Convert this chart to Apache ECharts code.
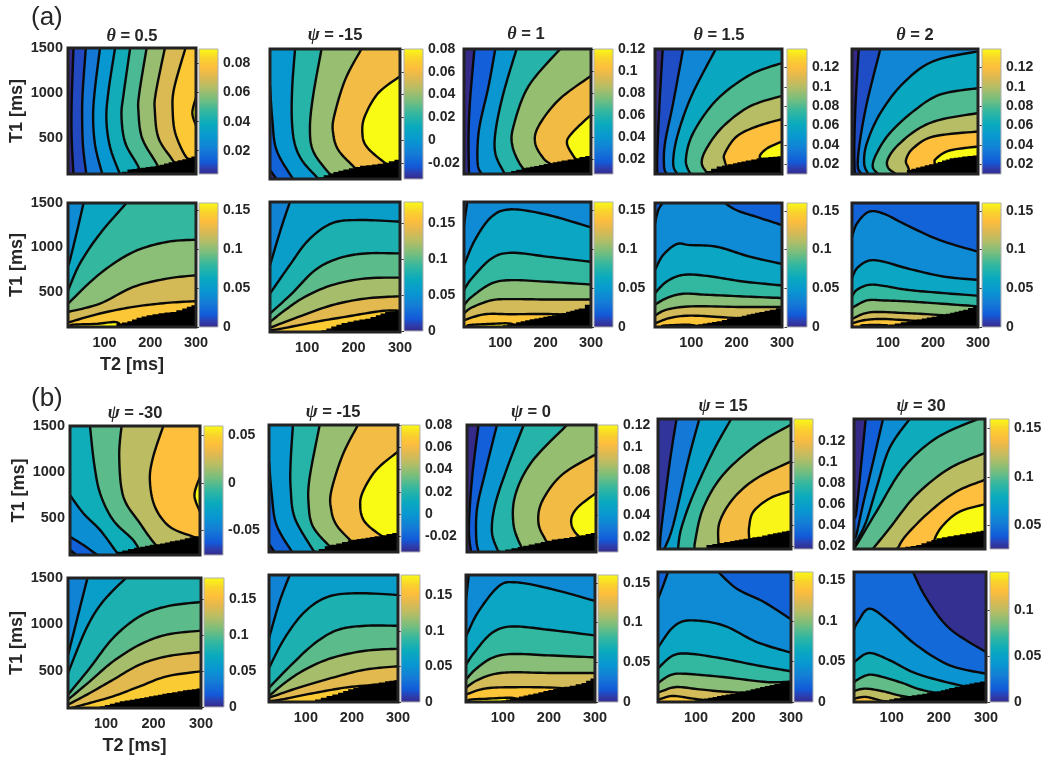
<!DOCTYPE html>
<html><head><meta charset="utf-8">
<style>html,body{margin:0;padding:0;background:#fff}#c{width:1050px;height:758px}</style>
<script src="https://cdn.jsdelivr.net/npm/echarts@6/dist/echarts.min.js"></script>
</head><body><div id="c"></div>
<script>
// ---- values: contours are [T2, T1] in ms, levels are colour-bar values
const barA1=[.004,.09], ticksA1=[.02,.04,.06,.08], levelsA1=[.004,.01,.02,.03,.04,.05,.06,.07,.08,.09];
const contoursA1=[
[[32,1500],[28,900],[28,500],[32,100]],
[[59,1500],[52,1000],[51,700],[53,400],[60,100]],
[[90,1500],[78,1000],[75,700],[80,400],[95,100]],
[[123,1500],[108,1000],[104,700],[112,400],[132,120],[136,100]],
[[156,1500],[142,1000],[137,750],[145,450],[172,200],[180,100]],
[[192,1500],[176,1000],[174,800],[182,500],[212,230],[225,100]],
[[232,1500],[212,1000],[210,800],[218,500],[248,260],[270,100]],
[[277,1500],[252,1050],[249,800],[255,550],[277,300],[300,200]],
[[300,950],[292,780],[300,640]]];
const maskA1=[[125,100],[150,150],[180,170],[210,190],[240,230],[270,265],[300,310]];

const barA2=[-.034,.08], ticksA2=[-.02,0,.02,.04,.06,.08], levelsA2=[-.034,-.02,0,.02,.04,.06,.08];
const contoursA2=[
[[20,197],[34,100]],
[[20,1100],[25,737],[34,413],[67,120],[72,100]],
[[74,1500],[68,1100],[67,750],[73,485],[89,300],[117,140],[125,100]],
[[131,1500],[113,1000],[106,650],[113,400],[146,170],[165,100]],
[[217,1500],[182,1170],[158,773],[156,593],[167,413],[200,233],[225,100]],
[[300,1205],[253,1025],[224,773],[219,593],[228,449],[264,287],[300,170]]];
const maskA2=[[115,100],[146,160],[178,203],[214,243],[240,255],[264,275],[300,323]];

const barA3=[.007,.12], ticksA3=[.02,.04,.06,.08,.1,.12], levelsA3=[.007,.02,.04,.06,.08,.1,.12];
const contoursA3=[
[[43,1500],[33,900],[30,500],[31,100]],
[[89,1500],[74,1081],[53,595],[50,221],[59,100]],
[[136,1500],[107,1006],[90,595],[89,333],[107,127],[112,100]],
[[232,1500],[162,1081],[129,632],[127,408],[147,184],[170,100]],
[[300,1200],[229,931],[184,632],[177,445],[195,277],[214,200],[240,100]],
[[300,763],[258,558],[247,445],[262,296],[280,184],[300,120]]];
const maskA3=[[100,100],[147,165],[175,190],[206,221],[235,250],[262,277],[300,315]];

const barA4=[.01,.139], ticksA4=[.02,.04,.06,.08,.1,.12], levelsA4=[.01,.02,.04,.06,.08,.1,.12,.14];
const contoursA4=[
[[37,1500],[30,894],[25,333],[25,100]],
[[82,1500],[60,894],[42,445],[40,184],[46,100]],
[[154,1500],[100,969],[69,520],[60,221],[69,100]],
[[300,1343],[230,1212],[156,931],[104,558],[88,258],[98,100]],
[[300,976],[229,857],[170,632],[134,389],[123,221],[137,100]],
[[300,715],[244,632],[200,520],[174,333],[174,240],[185,100]],
[[300,464],[268,390],[251,300],[262,250],[300,150]]];
const maskA4=[[112,100],[119,110],[156,184],[192,221],[220,250],[244,277],[270,290],[300,303]];

const barA5=[.01,.139], ticksA5=[.02,.04,.06,.08,.1,.12], levelsA5=[.01,.02,.04,.06,.08,.1,.12,.14];
const contoursA5=[
[[35,1500],[28,900],[25,400],[26,100]],
[[83,1500],[53,894],[37,445],[33,184],[42,100]],
[[300,1474],[200,1362],[134,1118],[83,782],[53,445],[47,221],[56,100]],
[[300,1062],[215,988],[156,801],[104,558],[75,333],[66,184],[78,100]],
[[300,782],[215,707],[164,595],[119,408],[99,258],[101,165],[118,100]],
[[300,576],[201,520],[156,389],[140,258],[145,172],[150,100]],
[[300,408],[237,363],[208,277],[204,221],[215,100]]];
const maskA5=[[130,100],[142,146],[172,185],[201,221],[220,250],[237,277],[265,295],[300,315]];

const barA6=[0,.159], ticksA6=[0,.05,.1,.15], levelsA6=[.04,.06,.08,.1,.12,.14,.16];
const contoursA6=[
[[54,1500],[42,1230],[24,850],[20,800]],
[[148,1500],[90,1154],[46,816],[20,510]],
[[300,1086],[236,1060],[163,947],[90,703],[20,364]],
[[300,684],[236,646],[163,552],[90,364],[20,270]],
[[300,391],[236,372],[163,327],[90,252],[20,150]],
[[135,100],[125,155],[80,135],[30,125],[25,100]]];
const maskA6=[[115,100],[126,139],[150,165],[170,205],[192,233],[218,255],[244,270],[270,310],[300,364]];

const barA7=[0,.179], ticksA7=[0,.05,.1,.15], levelsA7=[.04,.06,.08,.1,.12,.14,.16];
const contoursA7=[
[[63,1500],[45,1234],[20,820]],
[[300,1288],[210,1306],[153,1270],[103,1090],[60,802],[20,514]],
[[300,946],[225,946],[167,892],[117,766],[67,514],[20,298]],
[[300,686],[225,676],[153,604],[95,478],[52,334],[20,208]],
[[300,485],[225,460],[153,388],[81,262],[20,146]],
[[300,330],[260,326],[189,269],[117,208],[45,136],[20,118]]];
const maskA7=[[120,100],[131,118],[152,160],[174,197],[200,225],[225,244],[248,280],[268,316],[300,334]];

const barA8=[0,.16], ticksA8=[0,.05,.1,.15], levelsA8=[.04,.02,.06,.08,.1,.12,.14,.16];
const contoursA8=[
[[20,1240],[27,1500]],
[[300,1216],[206,1354],[125,1418],[81,1336],[44,1074],[20,790]],
[[300,830],[206,886],[125,931],[81,868],[37,644],[20,513]],
[[300,576],[206,606],[125,625],[81,588],[37,438],[20,344]],
[[300,408],[206,408],[125,412],[81,400],[37,318],[20,251]],
[[300,200],[225,243],[125,243],[66,243],[20,176]],
[[130,100],[120,140],[60,130],[30,120],[28,100]]];
const maskA8=[[90,100],[96,109],[125,140],[155,176],[185,205],[214,232],[245,270],[273,307],[300,390]];

const barA9=[0,.16], ticksA9=[0,.05,.1,.15], levelsA9=[.02,.04,.02,.06,.08,.1,.12,.14,.16];
const contoursA9=[
[[300,1250],[244,1343],[200,1418],[174,1500]],
[[20,1268],[27,1418],[37,1500]],
[[300,812],[229,894],[156,1006],[97,1025],[68,1036],[38,913],[20,744]],
[[300,569],[214,614],[134,677],[82,688],[46,614],[20,483]],
[[300,427],[214,445],[134,464],[82,475],[46,427],[20,352]],
[[300,326],[214,326],[101,333],[46,296],[20,228]],
[[300,160],[170,210],[97,228],[53,202],[20,140]],
[[115,100],[95,125],[40,115],[38,100]]];
const maskA9=[[88,100],[93,116],[125,140],[156,165],[190,205],[222,240],[250,270],[273,296],[300,330]];

const barA10=[0,.16], ticksA10=[0,.05,.1,.15], levelsA10=[.02,.04,.06,.08,.1,.12,.14,.16];
const contoursA10=[
[[300,950],[215,1081],[142,1249],[90,1380],[57,1400],[31,1268],[20,1118]],
[[300,632],[223,670],[142,763],[90,838],[57,849],[31,763],[20,651]],
[[300,453],[223,483],[142,520],[90,565],[57,576],[31,520],[20,445]],
[[300,333],[201,370],[142,389],[90,400],[53,400],[20,315]],
[[300,200],[201,240],[134,258],[75,270],[46,250],[20,190]],
[[300,130],[142,176],[83,191],[46,176],[20,140]],
[[100,100],[95,120],[45,120],[40,100]]];
const maskA10=[[85,100],[90,115],[115,140],[142,165],[175,195],[208,228],[238,262],[267,296],[300,352]];

const barB1=[-.076,.06], ticksB1=[-.05,0,.05], levelsB1=[-.076,-.06,-.04,-.02,0,.02,.04,.06];
const contoursB1=[
[[20,155],[34,100]],
[[20,298],[49,208],[77,107],[80,100]],
[[20,749],[49,551],[85,370],[117,153],[125,100]],
[[63,1500],[72,1092],[85,767],[113,478],[156,262],[175,100]],
[[131,1500],[126,1164],[135,731],[171,442],[199,244],[225,100]],
[[221,1500],[199,1164],[192,912],[203,623],[235,406],[286,298],[300,270]],
[[300,948],[288,750],[300,569]]];
const maskB1=[[110,100],[120,135],[145,165],[171,190],[192,210],[214,226],[235,248],[257,269],[298,316]];

const barB2=[-.034,.08], ticksB2=[-.02,0,.02,.04,.06,.08], levelsB2=[-.034,-.02,0,.02,.04,.06,.08];
const contoursB2=[
[[20,190],[32,100]],
[[20,1100],[26,731],[36,402],[68,117],[72,100]],
[[72,1500],[67,1097],[67,805],[76,475],[115,127],[122,100]],
[[130,1500],[108,914],[106,622],[115,384],[148,182],[170,100]],
[[213,1500],[180,1171],[155,768],[155,567],[166,402],[195,237],[225,100]],
[[300,1207],[253,1006],[224,768],[218,603],[227,439],[260,292],[300,170]]];
const maskB2=[[115,100],[141,164],[166,195],[191,226],[220,250],[249,274],[275,298],[300,322]];

const barB3=[.007,.12], ticksB3=[.02,.04,.06,.08,.1,.12], levelsB3=[.007,.02,.04,.06,.08,.1,.12];
const contoursB3=[
[[45,1500],[31,914],[24,365],[29,100]],
[[85,1500],[60,988],[42,585],[40,255],[45,100]],
[[143,1500],[107,1024],[81,622],[74,329],[85,138],[92,100]],
[[237,1500],[161,1097],[125,731],[121,402],[139,146],[150,100]],
[[300,1178],[226,951],[183,658],[175,420],[190,237],[205,100]],
[[300,750],[259,585],[246,439],[259,292],[300,150]]];
const maskB3=[[95,100],[103,127],[130,155],[154,182],[180,210],[204,237],[230,255],[255,274],[300,322]];

const barB4=[.017,.1415], ticksB4=[.02,.04,.06,.08,.1,.12], levelsB4=[.02,.04,.06,.08,.1,.12,.14];
const contoursB4=[
[[59,1500],[45,1043],[27,323],[24,125],[22,100]],
[[107,1500],[83,1043],[52,359],[34,107],[33,100]],
[[174,1500],[136,1151],[94,683],[69,323],[62,100]],
[[300,1439],[228,1223],[157,899],[115,539],[98,179],[98,100]],
[[300,1043],[228,863],[179,647],[150,395],[147,179],[150,100]],
[[300,726],[256,647],[221,503],[212,341],[212,215],[215,100]]];
const maskB4=[[110,100],[122,143],[147,165],[172,186],[200,210],[228,233],[262,270],[300,305]];

const barB5=[.025,.16], ticksB5=[.05,.1,.15], levelsB5=[.025,.04,.06,.08,.1,.12,.14,.16];
const contoursB5=[
[[45,1500],[36,1043],[25,503],[20,431]],
[[82,1500],[61,1043],[39,575],[25,251],[20,220]],
[[139,1500],[96,1187],[68,755],[46,395],[25,179],[20,150]],
[[285,1500],[196,1295],[125,971],[68,503],[25,143],[20,130]],
[[300,1133],[225,971],[153,683],[96,323],[61,107],[58,100]],
[[300,845],[239,719],[182,503],[132,251],[114,114],[110,100]],
[[300,582],[246,503],[211,359],[193,215],[190,100]]];
const maskB5=[[110,100],[118,114],[153,143],[175,180],[196,215],[220,236],[246,258],[272,280],[300,305]];

const barB6=[0,.179], ticksB6=[0,.05,.1,.15], levelsB6=[.04,.06,.08,.1,.12,.14,.16];
const contoursB6=[
[[61,1500],[45,1177],[22,710],[20,680]],
[[142,1500],[94,1249],[59,961],[20,477]],
[[300,1242],[228,1195],[171,1087],[115,854],[66,531],[20,243]],
[[300,933],[228,890],[171,782],[115,602],[66,387],[20,190]],
[[300,703],[228,656],[171,567],[115,405],[66,261],[20,136]],
[[300,495],[228,441],[171,333],[115,226],[66,154],[27,100]]];
const maskB6=[[75,100],[87,118],[108,145],[129,172],[150,190],[171,208],[200,235],[228,261],[262,290],[300,315]];

const barB7=[0,.179], ticksB7=[0,.05,.1,.15], levelsB7=[.04,.06,.08,.1,.12,.14,.16];
const contoursB7=[
[[65,1500],[43,1207],[21,823],[20,815]],
[[300,1280],[214,1299],[149,1262],[98,1097],[54,805],[20,475]],
[[300,940],[229,940],[170,896],[120,750],[69,512],[20,256]],
[[300,687],[229,665],[156,585],[98,457],[54,310],[20,164]],
[[300,494],[229,457],[156,365],[83,256],[20,146]],
[[300,330],[272,300],[192,263],[120,201],[47,127],[20,110]]];
const maskB7=[[105,100],[120,127],[145,165],[170,201],[192,240],[214,274],[245,300],[272,329],[300,347]];

const barB8=[0,.16], ticksB8=[0,.05,.1,.15], levelsB8=[.04,.02,.06,.08,.1,.12,.14,.16];
const contoursB8=[
[[20,1230],[26,1500]],
[[300,1215],[199,1354],[126,1420],[90,1372],[47,1097],[25,878],[20,820]],
[[300,834],[199,896],[119,933],[76,860],[40,658],[20,512]],
[[300,592],[199,614],[119,629],[76,585],[40,457],[20,347]],
[[300,420],[199,420],[119,428],[76,402],[40,329],[20,256]],
[[300,210],[220,256],[119,263],[61,248],[20,182]],
[[125,100],[122,145],[60,135],[28,125],[25,100]]];
const maskB8=[[90,100],[97,117],[125,150],[155,182],[188,220],[220,255],[245,280],[271,310],[300,384]];

const barB9=[0,.16], ticksB9=[0,.05,.1,.15], levelsB9=[.02,.04,.02,.06,.08,.1,.12,.14];
const contoursB9=[
[[300,990],[243,1177],[186,1320],[147,1500]],
[[20,1210],[31,1356],[41,1500]],
[[300,631],[228,746],[157,926],[87,979],[52,907],[23,710],[20,690]],
[[300,430],[228,495],[157,567],[87,620],[52,602],[23,477],[20,460]],
[[300,320],[249,315],[157,369],[73,405],[45,387],[23,315],[20,305]],
[[300,180],[172,207],[108,236],[59,261],[27,215],[20,200]],
[[150,100],[94,136],[52,165],[27,136],[20,120]]];
const maskB9=[[90,100],[98,118],[135,155],[172,190],[205,225],[235,261],[265,295],[300,333]];

const barB10=[0,.141], ticksB10=[0,.05,.1], levelsB10=[.002,.02,.04,.06,.08,.1,.12];
const contoursB10=[
[[300,638],[223,890],[174,1213],[145,1500]],
[[300,405],[223,495],[153,710],[96,962],[53,1105],[28,962],[20,880]],
[[300,230],[238,287],[153,405],[96,549],[53,628],[25,549],[20,520]],
[[300,130],[177,215],[117,315],[67,387],[46,387],[25,333],[20,310]],
[[200,100],[121,165],[82,215],[46,244],[25,226],[20,210]],
[[90,100],[75,118],[46,154],[26,143],[20,130]]];
const maskB10=[[65,100],[75,107],[105,140],[131,165],[165,190],[195,215],[222,250],[245,279],[275,310],[300,333]];

const panelTitlesA=[['θ','0.5'],['ψ','-15'],['θ','1'],['θ','1.5'],['θ','2']];
const panelTitlesB=[['ψ','-30'],['ψ','-15'],['ψ','0'],['ψ','15'],['ψ','30']];
const t2Ticks=[100,200,300], t1Ticks=[500,1000,1500];
const T2_RANGE=[20,300], T1_RANGE=[100,1500];

// ---- layout, in page pixels: frame l,t,r,b then bar l,r,t,b
const layout=[
[68,48,196,174, 199,218,49,174],[270,49,400,179, 404,423,49,179],[464,49,591,174, 594,613,49,174],[655,49,782,174, 787,807,49,174],[852,49,978,174, 982,1001,49,174],
[68,203,196,327, 199,218,203,327],[270,202,400,332, 404,423,202,331],[464,202,591,327, 594,613,202,327],[655,203,782,327, 787,807,203,327],[852,203,978,327, 982,1001,203,327],
[70,426,200,555, 204,223,426,555],[269,425,398,552, 401,420,425,552],[467,425,596,552, 598,618,425,552],[658,419,791,549, 794,813,419,549],[854,419,985,549, 990,1009,419,549],
[68,578,201,708, 204,224,578,707],[269,575,398,702, 401,420,575,702],[466,575,595,702, 598,618,575,702],[658,572,791,702, 794,813,572,702],[854,572,986,702, 990,1009,572,702]];
const titlePos=[[132,38],[335,37],[526,36],[719,37],[915,37],[135,415],[333,414],[531,414],[723,408],[921,408]];

const panels=[
[contoursA1,levelsA1,maskA1,barA1,ticksA1],[contoursA2,levelsA2,maskA2,barA2,ticksA2],[contoursA3,levelsA3,maskA3,barA3,ticksA3],[contoursA4,levelsA4,maskA4,barA4,ticksA4],[contoursA5,levelsA5,maskA5,barA5,ticksA5],
[contoursA6,levelsA6,maskA6,barA6,ticksA6],[contoursA7,levelsA7,maskA7,barA7,ticksA7],[contoursA8,levelsA8,maskA8,barA8,ticksA8],[contoursA9,levelsA9,maskA9,barA9,ticksA9],[contoursA10,levelsA10,maskA10,barA10,ticksA10],
[contoursB1,levelsB1,maskB1,barB1,ticksB1],[contoursB2,levelsB2,maskB2,barB2,ticksB2],[contoursB3,levelsB3,maskB3,barB3,ticksB3],[contoursB4,levelsB4,maskB4,barB4,ticksB4],[contoursB5,levelsB5,maskB5,barB5,ticksB5],
[contoursB6,levelsB6,maskB6,barB6,ticksB6],[contoursB7,levelsB7,maskB7,barB7,ticksB7],[contoursB8,levelsB8,maskB8,barB8,ticksB8],[contoursB9,levelsB9,maskB9,barB9,ticksB9],[contoursB10,levelsB10,maskB10,barB10,ticksB10]];

// ---- colour map (MATLAB parula)
const parula=[[0,53,42,135],[.05,45,62,175],[.1,18,90,217],[.2,20,125,214],[.3,8,152,209],[.4,10,170,190],[.5,50,183,160],[.6,120,190,125],[.7,185,189,100],[.78,225,185,80],[.85,253,190,61],[.92,250,210,45],[1,249,251,20]];
function colorAt(f){f=Math.max(0,Math.min(1,f));for(let i=1;i<parula.length;i++){if(f<=parula[i][0]){const a=parula[i-1],b=parula[i],k=(f-a[0])/(b[0]-a[0]);return 'rgb('+[1,2,3].map(j=>Math.round(a[j]+(b[j]-a[j])*k)).join(',')+')';}}return 'rgb(249,251,20)';}
const barStops=parula.map(p=>({offset:1-p[0],color:'rgb('+p[1]+','+p[2]+','+p[3]+')'}));

// curve through read points, for drawing only
function smoothPath(p){if(p.length<3)return p;const out=[];for(let i=0;i<p.length-1;i++){const a=p[Math.max(i-1,0)],b=p[i],c=p[i+1],d=p[Math.min(i+2,p.length-1)];for(let s=0;s<10;s++){const t=s/10,t2=t*t,t3=t2*t;out.push([.5*(2*b[0]+(c[0]-a[0])*t+(2*a[0]-5*b[0]+4*c[0]-d[0])*t2+(3*b[0]-a[0]-3*c[0]+d[0])*t3),.5*(2*b[1]+(c[1]-a[1])*t+(2*a[1]-5*b[1]+4*c[1]-d[1])*t2+(3*b[1]-a[1]-3*c[1]+d[1])*t3)]);}}out.push(p[p.length-1]);return out;}
// the jagged edge of the black region, drawn as small pixel stairs along the read edge
function jagged(px){const out=[px[0]];let prev=px[0][1];for(let i=1;i<px.length;i++){const a=px[i-1],b=px[i],n=Math.max(1,Math.round((b[0]-a[0])/5));for(let s=1;s<=n;s++){const x=a[0]+(b[0]-a[0])*s/n,y=a[1]+(b[1]-a[1])*s/n;out.push([x,prev]);out.push([x,y]);prev=y;}}return out;}
function edgeT(q){const [x,y]=q,dT=(1500-y)/1400,dL=(x-20)/280,dB=(y-100)/1400,dR=(300-x)/280,m=Math.min(dT,dL,dB,dR);if(m===dT)return (300-x)/280;if(m===dL)return 1+(1500-y)/1400;if(m===dB)return 2+(x-20)/280;return 3+(y-100)/1400;}
const corners=[[300,1500],[20,1500],[20,100],[300,100]];
function closing(pts){let te=edgeT(pts[pts.length-1]),ts=edgeT(pts[0]);if(ts<=te)ts+=4;const r=[];for(let k=Math.floor(te)+1;k<ts;k++)r.push(corners[k%4]);return r;}

const font='"Liberation Sans",Arial,sans-serif', ink='#262626';
const grid=[],xAxis=[],yAxis=[],series=[],title=[];
panels.forEach((P,idx)=>{
  const [cs,lv,mask,bar,ticks]=P,[l,t,r,b,bl,br,bt,bb]=layout[idx];
  const col=idx%5,row=Math.floor(idx/5),base=grid.length;
  const lowerRow=row%2===1;
  grid.push({left:l,top:t,width:r-l,height:b-t});
  xAxis.push({type:'value',gridIndex:base,min:T2_RANGE[0],max:T2_RANGE[1],splitLine:{show:false},axisLine:{show:false},axisTick:{show:false},
    axisLabel:lowerRow?{show:true,customValues:t2Ticks,formatter:v=>String(v),margin:8,color:ink,fontFamily:font,fontWeight:'bold',fontSize:14.5}:{show:false},
    name:(lowerRow&&col===0)?'T2 [ms]':'',nameLocation:'middle',nameGap:29,nameTextStyle:{color:ink,fontFamily:font,fontWeight:'bold',fontSize:18}});
  yAxis.push({type:'value',gridIndex:base,min:T1_RANGE[0],max:T1_RANGE[1],splitLine:{show:false},axisLine:{show:false},axisTick:{show:false},
    axisLabel:col===0?{show:true,customValues:t1Ticks,formatter:v=>String(v),margin:5,color:ink,fontFamily:font,fontWeight:'bold',fontSize:14.5}:{show:false},
    name:col===0?'T1 [ms]':'',nameLocation:'middle',nameRotate:90,nameGap:42,nameTextStyle:{color:ink,fontFamily:font,fontWeight:'bold',fontSize:18}});
  grid.push({left:bl,top:bt,width:br-bl,height:bb-bt});
  xAxis.push({type:'value',gridIndex:base+1,min:0,max:1,show:false});
  yAxis.push({type:'value',gridIndex:base+1,position:'right',min:bar[0],max:bar[1],splitLine:{show:false},axisLine:{show:false},
    axisTick:{show:true,inside:true,length:2.5,customValues:ticks,lineStyle:{color:'#333',width:1}},
    axisLabel:{show:true,customValues:ticks,formatter:v=>String(v),margin:5,color:ink,fontFamily:font,fontWeight:'bold',fontSize:14}});
  const fy=v=>(v-bar[0])/(bar[1]-bar[0]);
  series.push({type:'custom',coordinateSystem:'cartesian2d',xAxisIndex:base,yAxisIndex:base,clip:true,silent:true,z:2,
    data:[[-1]].concat(cs.map((_,i)=>[i])),
    renderItem:(params,api)=>{
      const i=params.dataIndex-1;
      if(i<0){const a=api.coord([T2_RANGE[0],T1_RANGE[1]]),c=api.coord([T2_RANGE[1],T1_RANGE[0]]);
        return {type:'rect',shape:{x:a[0],y:a[1],width:c[0]-a[0],height:c[1]-a[1]},style:{fill:colorAt(fy(lv[0]))}};}
      const pts=cs[i],px=smoothPath(pts.map(q=>api.coord(q))),close=closing(pts).map(q=>api.coord(q));
      return {type:'group',children:[
        {type:'polygon',shape:{points:px.concat(close)},style:{fill:colorAt(fy(lv[i+1]))}},
        {type:'polyline',shape:{points:px},style:{fill:'none',stroke:'#0a0a0a',lineWidth:2.4}}]};
    }});
  series.push({type:'custom',coordinateSystem:'cartesian2d',xAxisIndex:base,yAxisIndex:base,clip:true,silent:true,z:3,data:[[0]],
    renderItem:(params,api)=>{const out=jagged(mask.map(q=>api.coord(q)));out.push(api.coord([T2_RANGE[1],T1_RANGE[0]]));
      return {type:'polygon',shape:{points:out},style:{fill:'#000'}};}});
  series.push({type:'custom',coordinateSystem:'cartesian2d',xAxisIndex:base,yAxisIndex:base,clip:false,silent:true,z:5,data:[[0]],
    renderItem:(params,api)=>{const a=api.coord([T2_RANGE[0],T1_RANGE[1]]),c=api.coord([T2_RANGE[1],T1_RANGE[0]]);
      return {type:'rect',shape:{x:a[0],y:a[1],width:c[0]-a[0],height:c[1]-a[1]},style:{fill:'none',stroke:'#222',lineWidth:3}};}});
  series.push({type:'custom',coordinateSystem:'cartesian2d',xAxisIndex:base+1,yAxisIndex:base+1,clip:false,silent:true,z:2,data:[[0]],
    renderItem:(params,api)=>{const a=api.coord([0,bar[1]]),c=api.coord([1,bar[0]]);
      return {type:'rect',shape:{x:a[0],y:a[1],width:c[0]-a[0],height:c[1]-a[1]},style:{fill:new echarts.graphic.LinearGradient(0,0,0,1,barStops),stroke:'#b0b0b0',lineWidth:1}};}});
});
panelTitlesA.concat(panelTitlesB).forEach((tt,i)=>{
  const [cx,cy]=titlePos[i];
  title.push({text:'{g|'+tt[0]+'}{b| = '+tt[1]+'}',left:cx,top:cy-11,textAlign:'center',padding:0,
    textStyle:{rich:{g:{fontFamily:'"Liberation Serif",serif',fontStyle:'italic',fontWeight:'bold',fontSize:18,color:ink},b:{fontFamily:font,fontWeight:'bold',fontSize:16.5,color:ink}}}});
});
[['(a)',31,5],['(b)',31,386]].forEach(a=>title.push({text:a[0],left:a[1],top:a[2],padding:0,textStyle:{fontFamily:font,fontWeight:'normal',fontSize:26,color:ink}}));

const chart=echarts.init(document.getElementById('c'),null,{renderer:'canvas'});
chart.setOption({animation:false,backgroundColor:'#fff',title,grid,xAxis,yAxis,series});
</script></body></html>
